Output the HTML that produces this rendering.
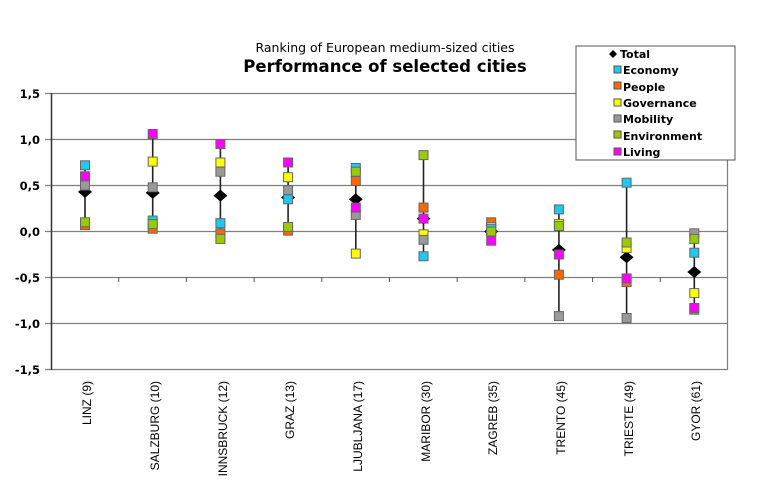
<!DOCTYPE html>
<html><head><meta charset="utf-8"><style>
html,body{margin:0;padding:0;background:#fff;}
svg{display:block;font-family:"DejaVu Sans","Liberation Sans",sans-serif;}
</style></head><body>
<svg width="771" height="485" viewBox="0 0 771 485" xmlns="http://www.w3.org/2000/svg">
<rect width="771" height="485" fill="#fff"/>
<text x="385" y="52" text-anchor="middle" font-size="12.5" fill="#000">Ranking of European medium-sized cities</text>
<text x="385" y="72" text-anchor="middle" font-size="16.5" font-weight="bold" fill="#000">Performance of selected cities</text>
<g stroke="#7f7f7f" stroke-width="1.2">
<line x1="45" y1="93.5" x2="728" y2="93.5"/>
<line x1="45" y1="139.5" x2="728" y2="139.5"/>
<line x1="45" y1="185.5" x2="728" y2="185.5"/>
<line x1="45" y1="231.5" x2="728" y2="231.5"/>
<line x1="45" y1="277.5" x2="728" y2="277.5"/>
<line x1="45" y1="323.5" x2="728" y2="323.5"/>
<line x1="45" y1="369.5" x2="728" y2="369.5"/>
<line x1="727.5" y1="93" x2="727.5" y2="370"/>
</g>
<line x1="51.5" y1="93" x2="51.5" y2="370" stroke="#333" stroke-width="1.5"/>
<g stroke="#555" stroke-width="1">
<line x1="118.7" y1="277" x2="118.7" y2="282"/><line x1="186.4" y1="277" x2="186.4" y2="282"/>
<line x1="254.1" y1="277" x2="254.1" y2="282"/><line x1="321.8" y1="277" x2="321.8" y2="282"/>
<line x1="389.5" y1="277" x2="389.5" y2="282"/><line x1="457.2" y1="277" x2="457.2" y2="282"/>
<line x1="524.9" y1="277" x2="524.9" y2="282"/><line x1="592.6" y1="277" x2="592.6" y2="282"/>
<line x1="660.3" y1="277" x2="660.3" y2="282"/>
</g>
<g font-size="11.5" font-weight="bold" text-anchor="end" fill="#000">
<text x="40" y="98">1,5</text><text x="40" y="144">1,0</text><text x="40" y="190">0,5</text>
<text x="40" y="236">0,0</text><text x="40" y="282">-0,5</text><text x="40" y="328">-1,0</text><text x="40" y="374">-1,5</text>
</g>

<g stroke="#666" stroke-width="1">
<g transform="translate(85,0)">
<line x1="0" y1="165.3" x2="0" y2="225.1" stroke="#222" stroke-width="1.6"/>
<path d="M-7 191.9 L0 185.9 L7 191.9 L0 197.9Z" fill="#000" stroke="none"/>
<rect x="-4.5" y="220.6" width="9" height="9" fill="#ff6600"/>
<rect x="-4.5" y="181" width="9" height="9" fill="#ffff00"/>
<rect x="-4.5" y="181" width="9" height="9" fill="#999"/>
<rect x="-4.5" y="160.8" width="9" height="9" fill="#1ec8f0"/>
<rect x="-4.5" y="217.8" width="9" height="9" fill="#99cc00"/>
<rect x="-4.5" y="171.8" width="9" height="9" fill="#ff00ff"/>
</g>
<g transform="translate(152.7,0)">
<line x1="0" y1="134" x2="0" y2="228.7" stroke="#222" stroke-width="1.6"/>
<path d="M-7 192.9 L0 186.9 L7 192.9 L0 198.9Z" fill="#000" stroke="none"/>
<rect x="-4.5" y="224.2" width="9" height="9" fill="#ff6600"/>
<rect x="-4.5" y="157.1" width="9" height="9" fill="#ffff00"/>
<rect x="-4.5" y="182.8" width="9" height="9" fill="#999"/>
<rect x="-4.5" y="216" width="9" height="9" fill="#1ec8f0"/>
<rect x="-4.5" y="219.6" width="9" height="9" fill="#99cc00"/>
<rect x="-4.5" y="129.5" width="9" height="9" fill="#ff00ff"/>
</g>
<g transform="translate(220.4,0)">
<line x1="0" y1="144.1" x2="0" y2="238.9" stroke="#222" stroke-width="1.6"/>
<path d="M-7 195.6 L0 189.6 L7 195.6 L0 201.6Z" fill="#000" stroke="none"/>
<rect x="-4.5" y="228.8" width="9" height="9" fill="#ff6600"/>
<rect x="-4.5" y="158" width="9" height="9" fill="#ffff00"/>
<rect x="-4.5" y="167.2" width="9" height="9" fill="#999"/>
<rect x="-4.5" y="218.7" width="9" height="9" fill="#1ec8f0"/>
<rect x="-4.5" y="234.4" width="9" height="9" fill="#99cc00"/>
<rect x="-4.5" y="139.6" width="9" height="9" fill="#ff00ff"/>
</g>
<g transform="translate(288.1,0)">
<line x1="0" y1="162.5" x2="0" y2="230.6" stroke="#222" stroke-width="1.6"/>
<path d="M-7 197.5 L0 191.5 L7 197.5 L0 203.5Z" fill="#000" stroke="none"/>
<rect x="-4.5" y="226.1" width="9" height="9" fill="#ff6600"/>
<rect x="-4.5" y="172.7" width="9" height="9" fill="#ffff00"/>
<rect x="-4.5" y="185.6" width="9" height="9" fill="#999"/>
<rect x="-4.5" y="194.8" width="9" height="9" fill="#1ec8f0"/>
<rect x="-4.5" y="222.4" width="9" height="9" fill="#99cc00"/>
<rect x="-4.5" y="158" width="9" height="9" fill="#ff00ff"/>
</g>
<g transform="translate(355.8,0)">
<line x1="0" y1="168" x2="0" y2="253.6" stroke="#222" stroke-width="1.6"/>
<path d="M-7 199.3 L0 193.3 L7 199.3 L0 205.3Z" fill="#000" stroke="none"/>
<rect x="-4.5" y="176.4" width="9" height="9" fill="#ff6600"/>
<rect x="-4.5" y="249.1" width="9" height="9" fill="#ffff00"/>
<rect x="-4.5" y="210.4" width="9" height="9" fill="#999"/>
<rect x="-4.5" y="163.5" width="9" height="9" fill="#1ec8f0"/>
<rect x="-4.5" y="167.2" width="9" height="9" fill="#99cc00"/>
<rect x="-4.5" y="203.1" width="9" height="9" fill="#ff00ff"/>
</g>
<g transform="translate(423.5,0)">
<line x1="0" y1="155.1" x2="0" y2="256.3" stroke="#222" stroke-width="1.6"/>
<path d="M-7 218.6 L0 212.6 L7 218.6 L0 224.6Z" fill="#000" stroke="none"/>
<rect x="-4.5" y="203.1" width="9" height="9" fill="#ff6600"/>
<rect x="-4.5" y="229.8" width="9" height="9" fill="#ffff00"/>
<rect x="-4.5" y="235.3" width="9" height="9" fill="#999"/>
<rect x="-4.5" y="251.8" width="9" height="9" fill="#1ec8f0"/>
<rect x="-4.5" y="150.6" width="9" height="9" fill="#99cc00"/>
<rect x="-4.5" y="214.1" width="9" height="9" fill="#ff00ff"/>
</g>
<g transform="translate(491.2,0)">
<line x1="0" y1="222.3" x2="0" y2="240.7" stroke="#222" stroke-width="1.6"/>
<path d="M-7 231.5 L0 225.5 L7 231.5 L0 237.5Z" fill="#000" stroke="none"/>
<rect x="-4.5" y="217.8" width="9" height="9" fill="#ff6600"/>
<rect x="-4.5" y="222.4" width="9" height="9" fill="#ffff00"/>
<rect x="-4.5" y="227" width="9" height="9" fill="#999"/>
<rect x="-4.5" y="224.2" width="9" height="9" fill="#1ec8f0"/>
<rect x="-4.5" y="227" width="9" height="9" fill="#99cc00"/>
<rect x="-4.5" y="236.2" width="9" height="9" fill="#ff00ff"/>
</g>
<g transform="translate(558.9,0)">
<line x1="0" y1="209.4" x2="0" y2="316.1" stroke="#222" stroke-width="1.6"/>
<path d="M-7 249.9 L0 243.9 L7 249.9 L0 255.9Z" fill="#000" stroke="none"/>
<rect x="-4.5" y="270.2" width="9" height="9" fill="#ff6600"/>
<rect x="-4.5" y="219.6" width="9" height="9" fill="#ffff00"/>
<rect x="-4.5" y="311.6" width="9" height="9" fill="#999"/>
<rect x="-4.5" y="204.9" width="9" height="9" fill="#1ec8f0"/>
<rect x="-4.5" y="221.5" width="9" height="9" fill="#99cc00"/>
<rect x="-4.5" y="250" width="9" height="9" fill="#ff00ff"/>
</g>
<g transform="translate(626.6,0)">
<line x1="0" y1="182.7" x2="0" y2="318" stroke="#222" stroke-width="1.6"/>
<path d="M-7 257.3 L0 251.3 L7 257.3 L0 263.3Z" fill="#000" stroke="none"/>
<rect x="-4.5" y="277.6" width="9" height="9" fill="#ff6600"/>
<rect x="-4.5" y="243.6" width="9" height="9" fill="#ffff00"/>
<rect x="-4.5" y="313.5" width="9" height="9" fill="#999"/>
<rect x="-4.5" y="178.2" width="9" height="9" fill="#1ec8f0"/>
<rect x="-4.5" y="238" width="9" height="9" fill="#99cc00"/>
<rect x="-4.5" y="273.9" width="9" height="9" fill="#ff00ff"/>
</g>
<g transform="translate(694.3,0)">
<line x1="0" y1="233.3" x2="0" y2="309.7" stroke="#222" stroke-width="1.6"/>
<path d="M-7 272 L0 266 L7 272 L0 278Z" fill="#000" stroke="none"/>
<rect x="-4.5" y="305.2" width="9" height="9" fill="#ff6600"/>
<rect x="-4.5" y="288.6" width="9" height="9" fill="#ffff00"/>
<rect x="-4.5" y="228.8" width="9" height="9" fill="#999"/>
<rect x="-4.5" y="248.2" width="9" height="9" fill="#1ec8f0"/>
<rect x="-4.5" y="234.4" width="9" height="9" fill="#99cc00"/>
<rect x="-4.5" y="303.4" width="9" height="9" fill="#ff00ff"/>
</g>
</g>

<g font-size="12" text-anchor="end" fill="#000" font-family="Liberation Sans, sans-serif">
<text transform="translate(91,381) rotate(-90)">LINZ (9)</text>
<text transform="translate(159,381) rotate(-90)">SALZBURG (10)</text>
<text transform="translate(227,381) rotate(-90)">INNSBRUCK (12)</text>
<text transform="translate(294,381) rotate(-90)">GRAZ (13)</text>
<text transform="translate(362,381) rotate(-90)">LJUBLJANA (17)</text>
<text transform="translate(430,381) rotate(-90)">MARIBOR (30)</text>
<text transform="translate(497,381) rotate(-90)">ZAGREB (35)</text>
<text transform="translate(565,381) rotate(-90)">TRENTO (45)</text>
<text transform="translate(633,381) rotate(-90)">TRIESTE (49)</text>
<text transform="translate(700,381) rotate(-90)">GYOR (61)</text>
</g>
<rect x="576" y="46" width="159" height="114" fill="#fff" stroke="#555" stroke-width="1"/>
<g font-size="11" font-weight="bold" fill="#000">
<path d="M613 50 L617 54 L613 58 L609 54 Z" fill="#000"/><text x="620" y="58">Total</text>
<rect x="614" y="66" width="7" height="7" fill="#1ec8f0" stroke="#555"/><text x="623" y="74">Economy</text>
<rect x="614" y="82" width="7" height="7" fill="#ff6600" stroke="#555"/><text x="623" y="91">People</text>
<rect x="614" y="99" width="7" height="7" fill="#ffff00" stroke="#555"/><text x="623" y="107">Governance</text>
<rect x="614" y="115" width="7" height="7" fill="#999" stroke="#555"/><text x="623" y="123">Mobility</text>
<rect x="614" y="131" width="7" height="7" fill="#99cc00" stroke="#555"/><text x="623" y="140">Environment</text>
<rect x="614" y="148" width="7" height="7" fill="#ff00ff" stroke="#555"/><text x="623" y="156">Living</text>
</g>
</svg>
</body></html>
